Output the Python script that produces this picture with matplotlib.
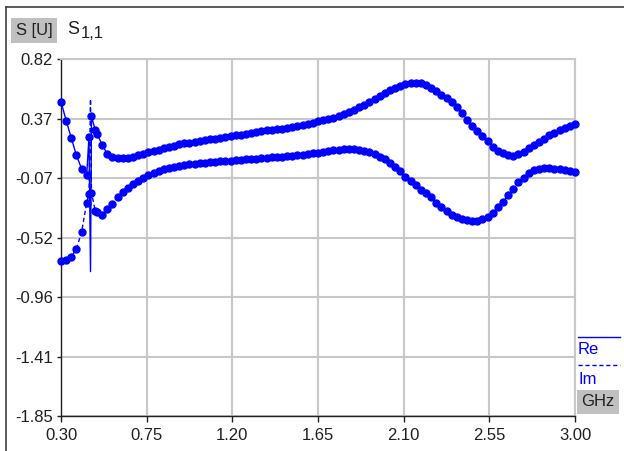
import numpy as np
import matplotlib
matplotlib.use("Agg")
import matplotlib.pyplot as plt

# sweep points (GHz); extra points around the resonance near 0.45 GHz
freq = [0.300, 0.327, 0.354, 0.381, 0.408, 0.435, 0.447, 0.455, 0.460, 0.480,
        0.489, 0.516, 0.543, 0.570, 0.597, 0.624, 0.651, 0.678, 0.705, 0.732,
        0.759, 0.786, 0.813, 0.840, 0.867, 0.894, 0.921, 0.948, 0.975, 1.002,
        1.029, 1.056, 1.083, 1.110, 1.137, 1.164, 1.191, 1.218, 1.245, 1.272,
        1.299, 1.326, 1.353, 1.380, 1.407, 1.434, 1.461, 1.488, 1.515, 1.542,
        1.569, 1.596, 1.623, 1.650, 1.677, 1.704, 1.731, 1.758, 1.785, 1.812,
        1.839, 1.866, 1.893, 1.920, 1.947, 1.974, 2.001, 2.028, 2.055, 2.082,
        2.109, 2.136, 2.163, 2.190, 2.217, 2.244, 2.271, 2.298, 2.325, 2.352,
        2.379, 2.406, 2.433, 2.460, 2.487, 2.514, 2.541, 2.568, 2.595, 2.622,
        2.649, 2.676, 2.703, 2.730, 2.757, 2.784, 2.811, 2.838, 2.865, 2.892,
        2.919, 2.946, 2.973, 3.000]

s11_re = [0.50, 0.36, 0.23, 0.10, 0.00, -0.05, 0.24, -0.77, 0.39, 0.29,
          0.26, 0.18, 0.11, 0.085, 0.077, 0.077, 0.082, 0.09, 0.10, 0.111,
          0.122, 0.133, 0.143, 0.152, 0.162, 0.172, 0.182, 0.19, 0.195, 0.20,
          0.205, 0.212, 0.219, 0.225, 0.231, 0.237, 0.244, 0.249, 0.255, 0.262,
          0.268, 0.276, 0.283, 0.287, 0.291, 0.295, 0.299, 0.304, 0.309, 0.316,
          0.325, 0.335, 0.345, 0.354, 0.363, 0.372, 0.38, 0.393, 0.407, 0.423,
          0.44, 0.458, 0.476, 0.497, 0.52, 0.543, 0.566, 0.585, 0.603, 0.618,
          0.63, 0.641, 0.644, 0.638, 0.624, 0.605, 0.582, 0.553, 0.526, 0.495,
          0.462, 0.415, 0.365, 0.322, 0.283, 0.245, 0.205, 0.162, 0.135, 0.115,
          0.103, 0.098, 0.108, 0.128, 0.152, 0.178, 0.201, 0.225, 0.25, 0.27,
          0.289, 0.307, 0.322, 0.335]

s11_im = [-0.689, -0.682, -0.66, -0.60, -0.475, -0.255, -0.19, 0.52, -0.18, -0.315,
          -0.325, -0.345, -0.30, -0.262, -0.215, -0.177, -0.145, -0.117, -0.094, -0.072,
          -0.05, -0.03, -0.017, -0.004, 0.003, 0.012, 0.021, 0.028, 0.032, 0.036,
          0.04, 0.044, 0.048, 0.051, 0.054, 0.057, 0.06, 0.063, 0.066, 0.069,
          0.072, 0.075, 0.077, 0.08, 0.084, 0.087, 0.09, 0.093, 0.097, 0.101,
          0.105, 0.109, 0.114, 0.12, 0.126, 0.132, 0.137, 0.141, 0.144, 0.145,
          0.144, 0.139, 0.133, 0.125, 0.112, 0.09, 0.07, 0.045, 0.015, -0.02,
          -0.06, -0.095, -0.125, -0.158, -0.185, -0.215, -0.26, -0.29, -0.32, -0.345,
          -0.365, -0.38, -0.387, -0.39, -0.39, -0.38, -0.36, -0.33, -0.29, -0.25,
          -0.2, -0.15, -0.1, -0.07, -0.035, -0.012, -0.003, 0.002, 0.003, 0.0,
          -0.006, -0.012, -0.02, -0.028]

xticks = [0.30, 0.75, 1.20, 1.65, 2.10, 2.55, 3.00]
yticks = [0.82, 0.37, -0.07, -0.52, -0.96, -1.41, -1.85]

W, H = 624, 451
plt.rcParams['font.family'] = ['Liberation Sans', 'DejaVu Sans']

fig = plt.figure(figsize=(W / 100, H / 100), dpi=100)
fig.patch.set_facecolor('white')

# plot box in pixel coords: x 61..575, y 59..416
ax = fig.add_axes([61 / W, 1 - 416 / H, (575 - 61) / W, (416 - 59) / H])

blue = '#0000ff'
marks = [i for i in range(len(freq)) if i != 7]
ax.plot(freq, s11_re, '-', color=blue, lw=1.0, marker='o', ms=5.0,
        markevery=marks, mec=blue, mfc=blue, clip_on=False, zorder=3)
ax.plot(freq, s11_im, '--', color=blue, lw=1.0, marker='o', ms=5.0,
        markevery=marks, mec=blue, mfc=blue, dashes=(3, 2), clip_on=False, zorder=3)

ax.set_xlim(0.30, 3.00)
ax.set_ylim(-1.85, 0.82)
ax.set_xticks(xticks)
ax.set_xticklabels(['%.2f' % v for v in xticks])
ax.set_yticks(yticks)
ax.set_yticklabels(['%.2f' % v for v in yticks])
ax.grid(True, color='#c8c8c8', lw=1.5)
ax.set_axisbelow(True)
for s in ['top', 'right']:
    ax.spines[s].set_color('#c8c8c8')
    ax.spines[s].set_linewidth(1.5)
for s in ['left', 'bottom']:
    ax.spines[s].set_color('#202020')
    ax.spines[s].set_linewidth(1.0)
ax.tick_params(axis='y', direction='out', length=3, width=1, pad=3,
               labelsize=12, colors='#202020')
ax.tick_params(axis='x', direction='out', length=4, width=1, pad=5,
               labelsize=12, colors='#202020')


def px(x, y):
    return x / W, 1 - y / H


# outer frame lines (left and top)
fig.add_artist(plt.Line2D([6 / W, 6 / W], [0, 1 - 7 / H], color='#404040', lw=1.2))
fig.add_artist(plt.Line2D([6 / W, 1], [1 - 7 / H, 1 - 7 / H], color='#404040', lw=1.2))

# top-left labels
fig.text(*px(34, 30), 'S [U]', ha='center', va='center', fontsize=12, color='#202020',
         bbox=dict(boxstyle='square,pad=0.3', fc='#c0c0c0', ec='none'))
fig.text(*px(67, 29), 'S', ha='left', va='center', fontsize=13, color='#202020')
fig.text(*px(81, 33), '1,1', ha='left', va='center', fontsize=12, color='#202020')

# legend at right
fig.add_artist(plt.Line2D([578 / W, 620 / W], [1 - 337 / H] * 2, color=blue, lw=1.0))
fig.text(*px(578, 349), 'Re', ha='left', va='center', fontsize=12, color=blue)
fig.add_artist(plt.Line2D([578 / W, 620 / W], [1 - 365 / H] * 2, color=blue, lw=1.0,
                          ls=(0, (3, 2))))
fig.text(*px(578, 379), 'Im', ha='left', va='center', fontsize=12, color=blue)
fig.text(*px(598, 402), 'GHz', ha='center', va='center', fontsize=12, color='#202020',
         bbox=dict(boxstyle='square,pad=0.25', fc='#c0c0c0', ec='none'))

fig.savefig('out.png', dpi=100)
